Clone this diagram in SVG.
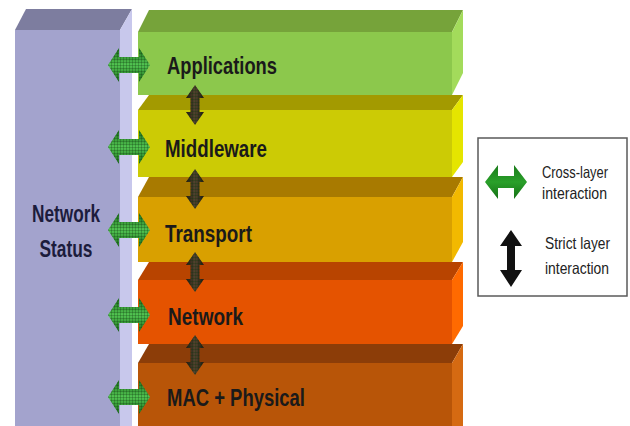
<svg xmlns="http://www.w3.org/2000/svg" width="630" height="426" viewBox="0 0 630 426">
  <defs>
    <style>
      .lbl { font-family: "Liberation Sans", Arial, sans-serif; font-weight: bold; font-size: 24.5px; fill: #1a1a1a; }
      .status { font-family: "Liberation Sans", Arial, sans-serif; font-weight: bold; font-size: 23px; fill: #1c1c3c; }
      .leg { font-family: "Liberation Sans", Arial, sans-serif; font-size: 16.5px; fill: #222222; }
    </style>
    <linearGradient id="greenArrow" x1="0" y1="0" x2="0" y2="1">
      <stop offset="0" stop-color="#1d6f1d"/>
      <stop offset="0.5" stop-color="#52c452"/>
      <stop offset="1" stop-color="#1d6f1d"/>
    </linearGradient>
    <linearGradient id="darkArrow" x1="0" y1="0" x2="1" y2="0">
      <stop offset="0" stop-color="#231a12"/>
      <stop offset="0.5" stop-color="#52432f"/>
      <stop offset="1" stop-color="#231a12"/>
    </linearGradient>
    <linearGradient id="legGreen" x1="0" y1="0" x2="0" y2="1">
      <stop offset="0" stop-color="#1a7a1a"/>
      <stop offset="0.5" stop-color="#2aa02a"/>
      <stop offset="1" stop-color="#167016"/>
    </linearGradient>
    <pattern id="mesh" width="3" height="3" patternUnits="userSpaceOnUse">
      <path d="M0,0.5 H3 M0.5,0 V3" stroke="#0a300a" stroke-width="0.6" opacity="0.45" fill="none"/>
    </pattern>
    <!-- horizontal double arrow centred on the origin -->
    <path id="hArrow" d="M-21,0 L-10,-17 L-10,-8 L10,-8 L10,-17 L21,0 L10,17 L10,8 L-10,8 L-10,17 Z"/>
    <!-- vertical double arrow centred on the origin -->
    <path id="vArrow" d="M0,-20 L9,-7 L4.5,-7 L4.5,7 L9,7 L0,20 L-9,7 L-4.5,7 L-4.5,-7 L-9,-7 Z"/>
  </defs>

  <rect width="630" height="426" fill="#ffffff"/>

  <!-- network status column -->
  <g id="network-status">
    <polygon points="15,30 26,9 132,9 120,30" fill="#7d7d9f"/>
    <rect x="15" y="30" width="105" height="396" fill="#a3a3cd"/>
    <polygon points="120,30 132,9 132,426 120,426" fill="#c8c8ec"/>
    <text class="status" x="66" y="222" text-anchor="middle" textLength="68" lengthAdjust="spacingAndGlyphs">Network</text>
    <text class="status" x="66" y="257" text-anchor="middle" textLength="53" lengthAdjust="spacingAndGlyphs">Status</text>
  </g>

  <!-- protocol layers, drawn bottom-up so upper faces overlap -->
  <g id="layer-mac">
    <polygon points="138,363 149,344 463,344 452,363" fill="#8c3d08"/>
    <rect x="138" y="363" width="314" height="63" fill="#b85508"/>
    <polygon points="452,363 463,344 463,426 452,426" fill="#d56a12"/>
    <text class="lbl" x="167" y="406" textLength="138" lengthAdjust="spacingAndGlyphs">MAC + Physical</text>
  </g>
  <g id="layer-network">
    <polygon points="138,280 149,262 463,262 452,280" fill="#b84400"/>
    <rect x="138" y="280" width="314" height="64" fill="#e55300"/>
    <polygon points="452,280 463,262 463,326 452,344" fill="#ff6a00"/>
    <text class="lbl" x="168" y="325" textLength="75" lengthAdjust="spacingAndGlyphs">Network</text>
  </g>
  <g id="layer-transport">
    <polygon points="138,197 149,177 463,177 452,197" fill="#a87a00"/>
    <rect x="138" y="197" width="314" height="65" fill="#d9a000"/>
    <polygon points="452,197 463,177 463,242 452,262" fill="#f2b900"/>
    <text class="lbl" x="165" y="242" textLength="87" lengthAdjust="spacingAndGlyphs">Transport</text>
  </g>
  <g id="layer-middleware">
    <polygon points="138,110 149,95 463,95 452,110" fill="#a39a00"/>
    <rect x="138" y="110" width="314" height="67" fill="#cccb05"/>
    <polygon points="452,110 463,95 463,162 452,177" fill="#e5e500"/>
    <text class="lbl" x="165" y="157" textLength="102" lengthAdjust="spacingAndGlyphs">Middleware</text>
  </g>
  <g id="layer-applications">
    <polygon points="138,32 149,10 463,10 452,32" fill="#76a33a"/>
    <rect x="138" y="32" width="314" height="63" fill="#8cc84c"/>
    <polygon points="452,32 463,10 463,73 452,95" fill="#a3db5b"/>
    <text class="lbl" x="167" y="74" textLength="110" lengthAdjust="spacingAndGlyphs">Applications</text>
  </g>

  <!-- interaction arrows -->
  <g id="connectors">
    <g id="cross-layer-arrows">
      <use href="#hArrow" transform="translate(129,65)" fill="url(#greenArrow)"/>
      <use href="#hArrow" transform="translate(129,65)" fill="url(#mesh)"/>
      <use href="#hArrow" transform="translate(129,147)" fill="url(#greenArrow)"/>
      <use href="#hArrow" transform="translate(129,147)" fill="url(#mesh)"/>
      <use href="#hArrow" transform="translate(129,230)" fill="url(#greenArrow)"/>
      <use href="#hArrow" transform="translate(129,230)" fill="url(#mesh)"/>
      <use href="#hArrow" transform="translate(129,315)" fill="url(#greenArrow)"/>
      <use href="#hArrow" transform="translate(129,315)" fill="url(#mesh)"/>
      <use href="#hArrow" transform="translate(129,397)" fill="url(#greenArrow)"/>
      <use href="#hArrow" transform="translate(129,397)" fill="url(#mesh)"/>
    </g>
    <g id="strict-layer-arrows">
      <use href="#vArrow" transform="translate(195,105)" fill="url(#darkArrow)"/>
      <use href="#vArrow" transform="translate(195,105)" fill="url(#mesh)"/>
      <use href="#vArrow" transform="translate(195,189)" fill="url(#darkArrow)"/>
      <use href="#vArrow" transform="translate(195,189)" fill="url(#mesh)"/>
      <use href="#vArrow" transform="translate(195,272)" fill="url(#darkArrow)"/>
      <use href="#vArrow" transform="translate(195,272)" fill="url(#mesh)"/>
      <use href="#vArrow" transform="translate(195,355)" fill="url(#darkArrow)"/>
      <use href="#vArrow" transform="translate(195,355)" fill="url(#mesh)"/>
    </g>
  </g>

  <!-- legend -->
  <g id="legend">
    <rect x="478" y="138" width="149" height="158" fill="#ffffff" stroke="#5a5a5a" stroke-width="1.5"/>
    <path d="M485,182 L498,165 L498,176 L514,176 L514,165 L527,182 L514,199 L514,188 L498,188 L498,199 Z" fill="url(#legGreen)"/>
    <path d="M511,230 L522,246 L515,246 L515,270 L522,270 L511,287 L500,270 L507,270 L507,246 L500,246 Z" fill="#111111"/>
    <text class="leg" x="542" y="178" textLength="66" lengthAdjust="spacingAndGlyphs">Cross-layer</text>
    <text class="leg" x="542" y="199" textLength="65" lengthAdjust="spacingAndGlyphs">interaction</text>
    <text class="leg" x="545" y="249" textLength="65" lengthAdjust="spacingAndGlyphs">Strict layer</text>
    <text class="leg" x="545" y="274" textLength="64" lengthAdjust="spacingAndGlyphs">interaction</text>
  </g>
</svg>
